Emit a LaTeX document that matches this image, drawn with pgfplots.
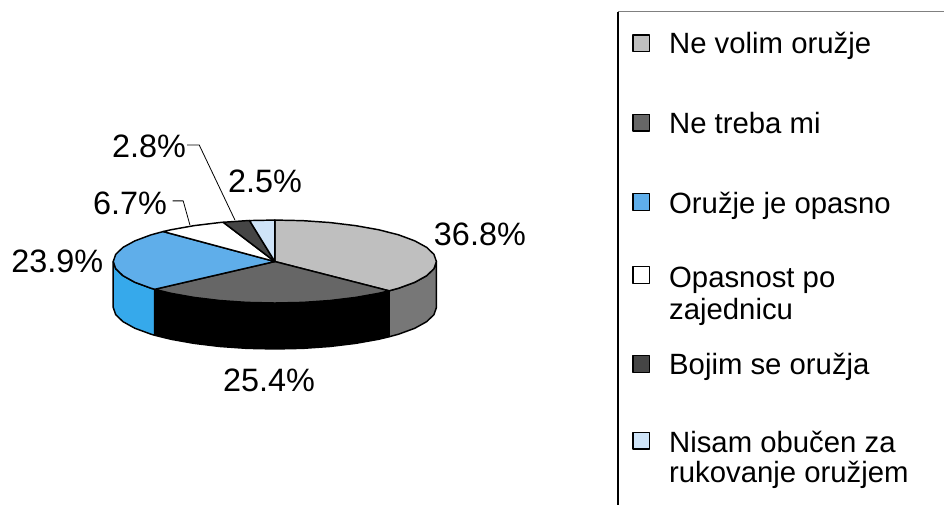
\documentclass[border=0pt]{standalone}
\usepackage{pgfplots}
\pgfplotsset{compat=1.18}
\usepackage{fontspec}
\setmainfont{Liberation Sans}

\definecolor{gtop}{HTML}{BFBFBF}
\definecolor{gside}{HTML}{777777}
\definecolor{dtop}{HTML}{666666}
\definecolor{btop}{HTML}{5FAEEA}
\definecolor{bside}{HTML}{36A9EB}
\definecolor{ktop}{HTML}{454545}
\definecolor{ltop}{HTML}{CFE4F8}

\begin{document}
\begin{tikzpicture}
\begin{axis}[
  scale only axis,
  width=708.75pt, height=378.75pt,
  xmin=0, xmax=945, ymin=0, ymax=505,
  y dir=reverse,
  hide axis,
  clip=false,
  every axis plot/.append style={line width=1.1pt, line join=round},
]
% keeps the page at the full picture size
\addplot[draw=none] coordinates {(0,0)(945,505)};
% sides
\addplot[draw=black, fill=gside] coordinates {
 (436.7,261.7)(434.2,268.9)(426.9,275.9)(415.0,282.5)(398.9,288.4)(389.3,291.0)
 (389.3,337.0)(398.9,334.4)(415.0,328.5)(426.9,321.9)(434.2,314.9)(436.7,307.7)} -- cycle;
\addplot[draw=black, fill=black] coordinates {
 (389.3,291.0)(378.9,293.5)(355.9,297.6)(330.3,300.7)(303.1,302.6)(275.0,303.2)(246.9,302.6)(219.7,300.7)(194.1,297.6)(171.1,293.5)(154.8,289.5)
 (154.8,335.5)(171.1,339.5)(194.1,343.6)(219.7,346.7)(246.9,348.6)(275.0,349.2)(303.1,348.6)(330.3,346.7)(355.9,343.6)(378.9,339.5)(389.3,337.0)} -- cycle;
\addplot[draw=black, fill=bside] coordinates {
 (154.8,289.5)(151.1,288.4)(135.0,282.5)(123.1,275.9)(115.8,268.9)(113.3,261.7)
 (113.3,307.7)(115.8,314.9)(123.1,321.9)(135.0,328.5)(151.1,334.4)(154.8,335.5)} -- cycle;
% top slices
\addplot[draw=black, fill=gtop] coordinates {
 (275,261.7)(275.0,220.2)(303.1,220.8)(330.3,222.7)(355.9,225.8)(378.9,229.9)(398.9,235.0)(415.0,241.0)(426.9,247.5)(434.2,254.5)(436.7,261.7)
 (434.2,268.9)(426.9,275.9)(415.0,282.5)(398.9,288.4)(389.3,291.0)} -- cycle;
\addplot[draw=black, fill=dtop] coordinates {
 (275,261.7)(389.3,291.0)(378.9,293.5)(355.9,297.6)(330.3,300.7)(303.1,302.6)(275.0,303.2)(246.9,302.6)(219.7,300.7)(194.1,297.6)(171.1,293.5)(154.8,289.5)} -- cycle;
\addplot[draw=black, fill=btop] coordinates {
 (275,261.7)(154.8,289.5)(151.1,288.4)(135.0,282.5)(123.1,275.9)(115.8,268.9)(113.3,261.7)(115.8,254.5)(123.1,247.5)(135.0,241.0)(151.1,235.0)(163.3,231.7)} -- cycle;
\addplot[draw=black, fill=white] coordinates {
 (275,261.7)(163.3,231.7)(171.1,229.9)(194.1,225.8)(219.7,222.7)(223.4,222.4)} -- cycle;
\addplot[draw=black, fill=ktop] coordinates {
 (275,261.7)(223.4,222.4)(246.9,220.8)(249.7,220.7)} -- cycle;
\addplot[draw=black, fill=ltop] coordinates {
 (275,261.7)(249.7,220.7)(275.0,220.2)} -- cycle;
% leader lines
\addplot[draw=black, line width=0.6pt] coordinates {(187.3,145)(199.3,145)(235,220)};
\addplot[draw=black, line width=0.6pt] coordinates {(172.7,201)(183.3,201)(190,225)};
% legend frame
\addplot[draw=black!50, line width=0.9pt] coordinates {(618.3,11.7)(945,11.7)};
\addplot[draw=black, line width=0.9pt] coordinates {(618.3,11.7)(618.3,505)};
% legend keys
\addplot[only marks, mark=square*, mark size=6.3pt, mark options={draw=black, fill=gtop, line width=1pt}] coordinates {(641.7,43.3)};
\addplot[only marks, mark=square*, mark size=6.3pt, mark options={draw=black, fill=dtop, line width=1pt}] coordinates {(641.7,122.7)};
\addplot[only marks, mark=square*, mark size=6.3pt, mark options={draw=black, fill=btop, line width=1pt}] coordinates {(641.7,202.3)};
\addplot[only marks, mark=square*, mark size=6.3pt, mark options={draw=black, fill=white, line width=1pt}] coordinates {(641.7,275.3)};
\addplot[only marks, mark=square*, mark size=6.3pt, mark options={draw=black, fill=ktop, line width=1pt}] coordinates {(641.7,364.3)};
\addplot[only marks, mark=square*, mark size=6.3pt, mark options={draw=black, fill=ltop, line width=1pt}] coordinates {(641.7,441)};
% legend text
\begin{scope}[every node/.style={anchor=base west, inner sep=0pt, font=\fontsize{22}{26}\selectfont}]
\node at (axis cs:669.3,53.3) {Ne volim oružje};
\node at (axis cs:669.3,133.3) {Ne treba mi};
\node at (axis cs:669.3,214) {Oružje je opasno};
\node at (axis cs:669.3,287.3) {Opasnost po};
\node at (axis cs:669.3,320) {zajednicu};
\node at (axis cs:669.3,375) {Bojim se oružja};
\node at (axis cs:669.3,452.7) {Nisam obučen za};
\node at (axis cs:669.3,483.3) {rukovanje oružjem};
\end{scope}
% value labels
\begin{scope}[every node/.style={anchor=base west, inner sep=0pt, font=\fontsize{24.3}{28}\selectfont}]
\node at (axis cs:434,246) {36.8\%};
\node at (axis cs:223,392) {25.4\%};
\node at (axis cs:11,272.5) {23.9\%};
\node at (axis cs:93,214.5) {6.7\%};
\node at (axis cs:112,158) {2.8\%};
\node at (axis cs:228,192.5) {2.5\%};
\end{scope}
\end{axis}
\end{tikzpicture}
\end{document}
